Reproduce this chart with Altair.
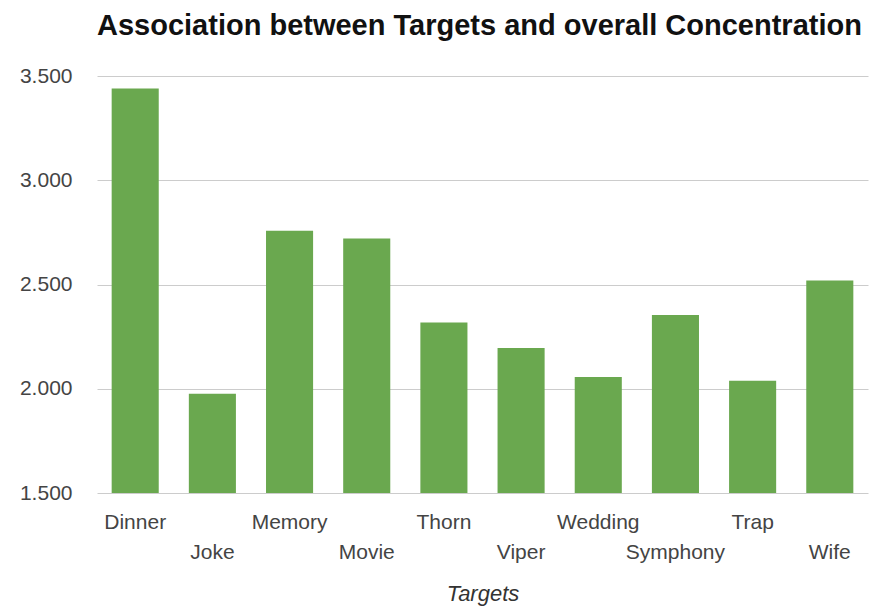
import altair as alt
import pandas as pd

# Concentration score per target word
targets = ["Dinner", "Joke", "Memory", "Movie", "Thorn",
           "Viper", "Wedding", "Symphony", "Trap", "Wife"]
concentration = [3440, 1976, 2758, 2721, 2318, 2195, 2056, 2354, 2038, 2519]
y_ticks = [1500, 2000, 2500, 3000, 3500]

# every second label sits on a lower row
lower_row = targets[1::2]

df = pd.DataFrame({"Targets": targets, "Concentration": concentration})

font = "Liberation Sans"
label_expr = (
    "indexof(" + str(lower_row) + ", datum.value) >= 0 ? ['', datum.label] : datum.label"
)

chart = (
    alt.Chart(df)
    .mark_bar(color="#6aa84f")
    .encode(
        x=alt.X(
            "Targets:N",
            sort=targets,
            scale=alt.Scale(paddingInner=0.39, paddingOuter=0.19),
            axis=alt.Axis(
                title="Targets",
                titleFont=font,
                titleFontSize=22,
                titleFontStyle="italic",
                titleFontWeight="normal",
                titleColor="#333333",
                titleY=107,
                titleBaseline="alphabetic",
                labelFont=font,
                labelFontSize=21,
                labelColor="#444444",
                labelAngle=0,
                labelPadding=18,
                labelLineHeight=30,
                labelBaseline="top",
                labelExpr=label_expr,
                ticks=False,
                domain=False,
                grid=False,
            ),
        ),
        y=alt.Y(
            "Concentration:Q",
            scale=alt.Scale(domain=[1500, 3500], zero=False, nice=False),
            axis=alt.Axis(
                title=None,
                values=y_ticks,
                labelExpr="replace(format(datum.value, ','), ',', '.')",
                labelFont=font,
                labelFontSize=21,
                labelColor="#444444",
                labelPadding=25,
                ticks=False,
                domain=False,
                grid=True,
                gridColor="#cccccc",
                gridWidth=1,
            ),
        ),
        y2=alt.Y2Datum(1500),
    )
    .properties(
        width=771,
        height=417,
        padding={"left": 97, "top": 76, "right": 4, "bottom": 114},
        autosize=alt.AutoSizeParams(type="none"),
        background="white",
        title=alt.TitleParams(
            "Association between Targets and overall Concentration",
            anchor="start",
            frame="group",
            font=font,
            fontSize=29,
            fontWeight="bold",
            color="#111111",
            baseline="top",
            offset=24,
        ),
    )
    .configure_view(stroke="transparent")
)

chart.save("out.html", embed_options={"renderer": "svg", "actions": False})
